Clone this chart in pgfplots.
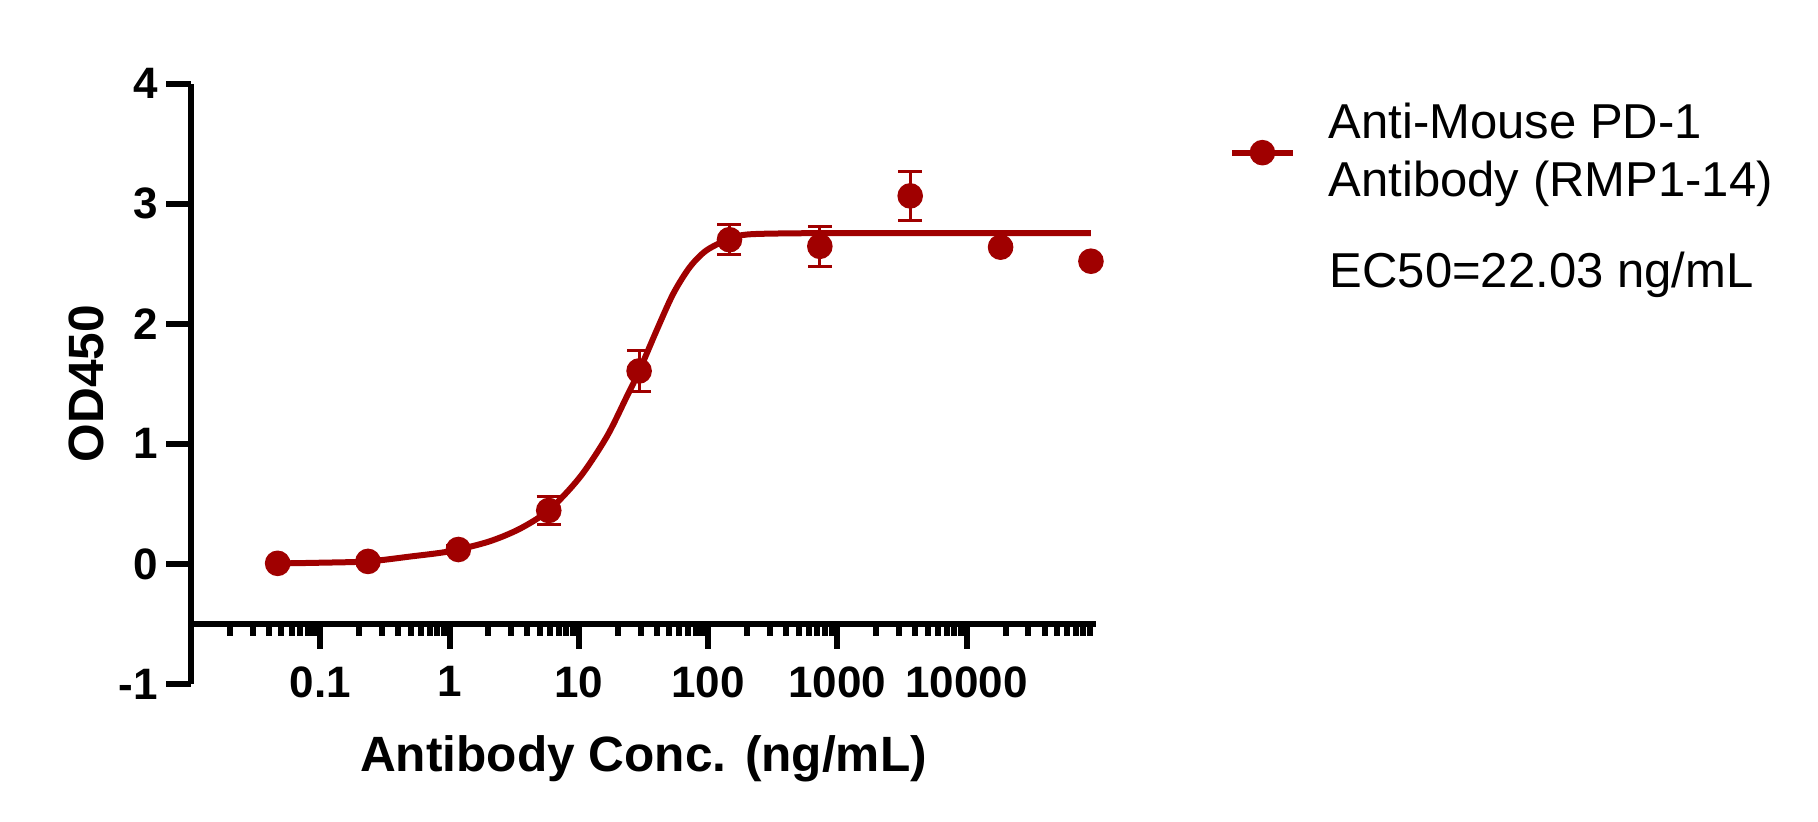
\documentclass[border=0pt]{standalone}
\usepackage{fontspec}
\setmainfont{Liberation Sans}
\usepackage{pgfplots}
\pgfplotsset{compat=1.18}
\definecolor{odred}{RGB}{160,0,0}

% measured points: x (ng/mL), OD450, SD
\pgfplotstableread{
x         y      e
0.0468    0.005  0.02
0.234     0.021  0.02
1.17      0.120  0.03
5.85      0.445  0.115
29.25     1.607  0.170
146.25    2.700  0.125
731.25    2.645  0.168
3656.25   3.065  0.203
18281.25  2.638  0.02
91406.25  2.521  0.02
}\odtable

\begin{document}
\begin{tikzpicture}
\begin{axis}[
  name=ax,
  xmode=log, log basis x=10,
  scale only axis, width=226.25pt, height=150.1pt,
  xmin=0.01, xmax=100000, ymin=-1, ymax=4,
  axis x line*=bottom, axis y line*=left,
  axis x line shift=-15pt,
  axis line style={line width=1.5pt, black},
  xtick={0.1,1,10,100,1000,10000},
  xticklabels={0.1,1,10,100,1000,10000},
  minor xtick={0.02,0.03,0.04,0.05,0.06,0.07,0.08,0.09,
    0.2,0.3,0.4,0.5,0.6,0.7,0.8,0.9,
    2,3,4,5,6,7,8,9,
    20,30,40,50,60,70,80,90,
    200,300,400,500,600,700,800,900,
    2000,3000,4000,5000,6000,7000,8000,9000,
    20000,30000,40000,50000,60000,70000,80000,90000},
  ytick={-1,0,1,2,3,4},
  tick align=outside,
  major tick length=6.25pt, minor tick length=3pt,
  tick style={black, line width=1.5pt},
  /pgf/number format/assume math mode=true,
  ticklabel style={font=\bfseries\fontsize{11}{13}\selectfont},
  xticklabel style={yshift=-0.8pt},
  yticklabel style={xshift=1.5pt},
  xlabel={Antibody Conc. (ng/mL)},
  ylabel={OD450},
  label style={font=\bfseries\fontsize{12.4}{14}\selectfont},
  xlabel style={at={(axis description cs:0.5,-0.145)}, anchor=base},
  ylabel style={at={(axis description cs:-0.115,0.5)}, anchor=center},
  clip=false,
  legend cell align=left,
  legend style={draw=none, fill=none, inner sep=0pt, outer sep=0pt,
    at={(axis description cs:1.147,0.885)}, anchor=west,
    nodes={inner sep=0pt}, cells={align=left},
    font=\fontsize{12.25}{14.5}\selectfont},
]

% fitted curve
\addplot[odred, line width=1.5pt, smooth, tension=0.5, forget plot] coordinates {
  (0.0468,0.004) (0.1,0.010) (0.234,0.021) (0.5,0.062) (1.0,0.105)
  (2.0,0.185) (3.5,0.293) (5.9,0.45) (10.2,0.723) (16.4,1.057)
  (23.4,1.39) (29.3,1.607) (40,1.946) (53.7,2.25) (72.3,2.473)
  (97.3,2.612) (147.6,2.71) (198.6,2.743) (359,2.752) (1000,2.755)
  (10000,2.755) (91406,2.755)
};

\addplot[only marks, mark=*, mark size=3pt, odred,
  mark options={fill=odred, draw=odred},
  legend image code/.code={
    \draw[odred, line width=1.5pt] (0pt,0pt) -- (15.25pt,0pt);
    \fill[odred] (7.6pt,0pt) circle (3pt);
    \path (24pt,0pt);},
  error bars/.cd, y dir=both, y explicit,
  error bar style={line width=0.8pt, odred},
  error mark options={rotate=90, mark size=3pt, line width=0.8pt, odred}]
  table[x=x, y=y, y error=e] {\odtable};
\addlegendentry{Anti-Mouse PD-1\\Antibody (RMP1-14)}

\node[anchor=base west, inner sep=0pt, font=\fontsize{12.25}{14.5}\selectfont]
  at (axis description cs:1.2574,0.661) {EC50=22.03 ng/mL};
\end{axis}
\path ([xshift=-47.75pt,yshift=-34.5pt]ax.south west) rectangle ([xshift=180.5pt,yshift=20.9pt]ax.north east);
\end{tikzpicture}
\end{document}
